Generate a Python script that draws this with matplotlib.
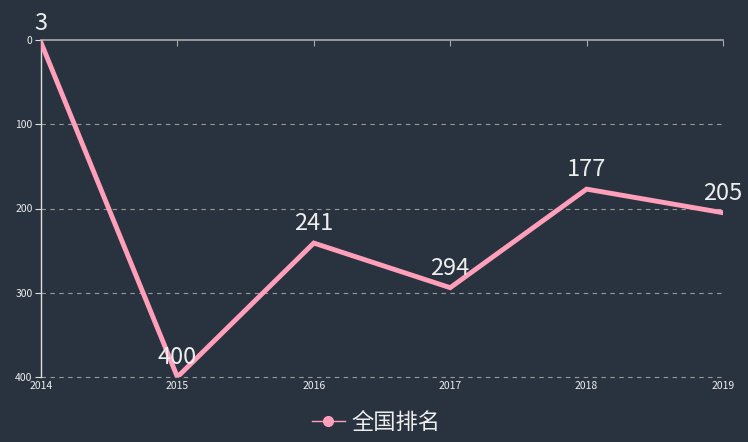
import matplotlib.pyplot as plt

years = ['2014', '2015', '2016', '2017', '2018', '2019']
ranks = [3, 400, 241, 294, 177, 205]
series_name = '全国排名'

bg = '#29333f'
pink = '#ff9fba'
plt.rcParams['font.family'] = ['Noto Sans CJK SC', 'DejaVu Sans']

fig = plt.figure(figsize=(7.48, 4.42), dpi=100, facecolor=bg)
ax = fig.add_axes([41 / 748, 1 - 377 / 442, (723 - 41) / 748, (377 - 40) / 442])
ax.set_facecolor(bg)

x = list(range(len(years)))
ax.plot(x, ranks, color=pink, linewidth=3.5, solid_joinstyle='miter',
        marker='o', markersize=0, label=series_name, zorder=3)

for xi, v in zip(x, ranks):
    ax.annotate(str(v), (xi, v), xytext=(0, 5.5), textcoords='offset points',
                ha='center', va='bottom', fontsize=17, color='#eeeeee', zorder=4)

ax.set_xlim(0, len(years) - 1)
ax.set_ylim(400, 0)
ax.set_yticks([0, 100, 200, 300, 400])
ax.set_xticks(x)
ax.set_xticklabels(years)

ax.xaxis.set_ticks_position('top')
ax.tick_params(axis='x', which='both', top=True, bottom=False, labeltop=False,
               labelbottom=True, direction='in', length=4, color='#aaaaaa',
               labelsize=7.5, labelcolor='#eeeeee', pad=3)
ax.tick_params(axis='y', direction='out', length=4, color='#dddddd',
               labelsize=7.5, labelcolor='#eeeeee', pad=2)

# dashed split lines (incl. the one at 400)
for v in [100, 200, 300, 400]:
    ax.axhline(v, color='#999999', linestyle=(0, (4, 4)), linewidth=0.8,
               clip_on=False, zorder=1)

for s in ['bottom', 'right']:
    ax.spines[s].set_visible(False)
ax.spines['top'].set_color('#aaaaaa')
ax.spines['top'].set_linewidth(1.2)
ax.spines['left'].set_color('#dddddd')
ax.spines['left'].set_linewidth(1)

h, = ax.plot([], [], color=pink, linewidth=1, marker='o', markersize=7)
fig.legend([h], [series_name], loc='center', bbox_to_anchor=(376 / 748, 1 - 422 / 442),
           frameon=False, fontsize=16, handlelength=1.5, handletextpad=0.3,
           labelcolor='#eeeeee')

fig.savefig('out.png', dpi=100, facecolor=bg)
